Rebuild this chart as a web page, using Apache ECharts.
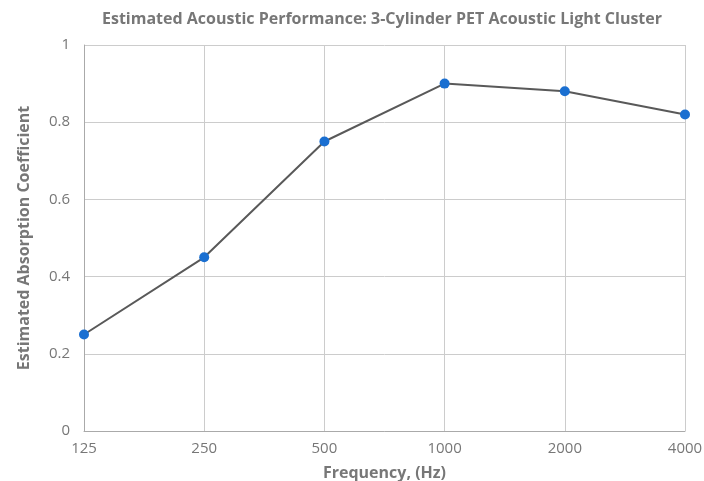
<!DOCTYPE html>
<html><head><meta charset="utf-8">
<script src="https://cdn.jsdelivr.net/npm/echarts@6/dist/echarts.min.js"></script>
<style>html,body{margin:0;padding:0;background:#fff}#c{width:704px;height:481px}</style>
</head><body><div id="c"></div>
<script>
var categories = ['125', '250', '500', '1000', '2000', '4000'];
var absorption = [0.25, 0.45, 0.75, 0.90, 0.88, 0.82];
var yTicks = [0, 0.2, 0.4, 0.6, 0.8, 1];

var chart = echarts.init(document.getElementById('c'));
chart.setOption({
  animation: false,
  textStyle: { fontFamily: '"Open Sans", sans-serif' },
  title: {
    text: 'Estimated Acoustic Performance: 3-Cylinder PET Acoustic Light Cluster',
    left: 97, top: 6,
    textStyle: { fontSize: 16, fontWeight: 'bold', color: '#777', fontFamily: '"Open Sans", sans-serif' }
  },
  grid: { left: 84, right: 19, top: 45, bottom: 50, containLabel: false, outerBoundsMode: 'none' },
  xAxis: {
    type: 'category', data: categories, boundaryGap: false,
    name: 'Frequency, (Hz)', nameLocation: 'middle', nameGap: 34,
    nameTextStyle: { fontSize: 16, fontWeight: 'bold', color: '#777' },
    axisLine: { lineStyle: { color: '#aaa' } },
    axisTick: { show: false },
    axisLabel: { color: '#777', fontSize: 15, margin: 10 },
    splitLine: { show: true, lineStyle: { color: '#ccc' } }
  },
  yAxis: {
    type: 'value', min: 0, max: 1, interval: 0.2,
    name: 'Estimated Absorption Coefficient', nameLocation: 'middle', nameGap: 52,
    nameTextStyle: { fontSize: 16, fontWeight: 'bold', color: '#777' },
    axisLine: { show: true, lineStyle: { color: '#aaa' } },
    axisTick: { show: false },
    axisLabel: { color: '#777', fontSize: 15, margin: 14,
      formatter: function (v) { return String(Math.round(v * 10) / 10); } },
    splitLine: { show: true, lineStyle: { color: '#ccc' } }
  },
  series: [{
    type: 'line', data: absorption,
    symbol: 'circle', symbolSize: 10,
    lineStyle: { color: '#595959', width: 2 },
    itemStyle: { color: '#1a6fd1' }
  }]
});
</script></body></html>
